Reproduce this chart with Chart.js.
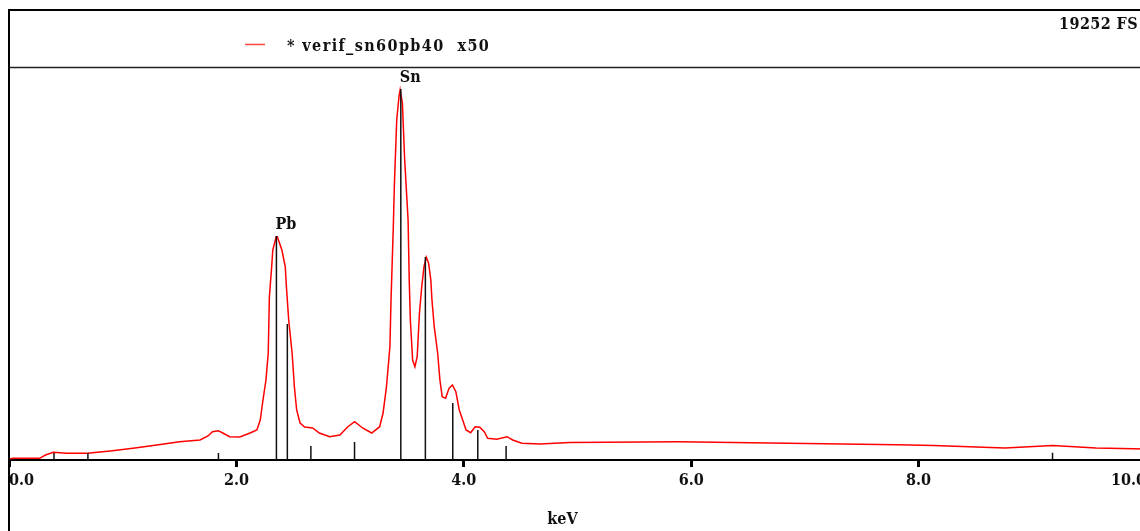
<!DOCTYPE html>
<html lang="en">
<head>
  <meta charset="UTF-8">
  <title>verif_sn60pb40</title>
  <style>
    html, body { margin: 0; padding: 0; background: #fff; }
    body { width: 1140px; height: 531px; overflow: hidden; position: relative; }
    #spectrum { position: absolute; left: 0; top: 0; }
  </style>
</head>
<body>
  <canvas id="spectrum" width="1150" height="531"></canvas>
  <script src="https://cdn.jsdelivr.net/npm/chart.js"></script>
  <script>
    // spectrum (keV / counts)
    const sampleName = '* verif_sn60pb40  x50';
    const fullScale = 19252;
    const specKeV = [0.00, 0.035, 0.27, 0.32, 0.39, 0.51, 0.69, 0.89, 1.09, 1.30, 1.50, 1.68, 1.75, 1.79, 1.84, 1.88, 1.94, 2.03, 2.12, 2.18,
      2.21, 2.23, 2.26, 2.28, 2.29, 2.31, 2.32, 2.35, 2.36, 2.40, 2.43, 2.44, 2.46, 2.49, 2.51, 2.53, 2.56, 2.60, 2.67, 2.73,
      2.82, 2.91, 2.98, 3.04, 3.11, 3.19, 3.26, 3.29, 3.32, 3.35, 3.36, 3.38, 3.39, 3.41, 3.43, 3.44, 3.46, 3.48, 3.51, 3.52,
      3.53, 3.55, 3.57, 3.59, 3.61, 3.63, 3.65, 3.67, 3.69, 3.71, 3.72, 3.74, 3.77, 3.79, 3.81, 3.84, 3.87, 3.90, 3.93, 3.96,
      3.99, 4.02, 4.06, 4.10, 4.14, 4.18, 4.21, 4.29, 4.38, 4.43, 4.51, 4.67, 4.93, 5.89, 6.85, 7.81, 8.13, 8.76, 9.18, 9.56, 10.0];
    const specCounts = [49, 84, 84, 246, 378, 329, 329, 442, 575, 737, 899, 982, 1179, 1390, 1439, 1326, 1144, 1130, 1326, 1473,
      1964, 2799, 3929, 5255, 8005, 9478, 10313, 10966, 10966, 10313, 9478, 8496, 6875, 5255, 3600, 2456, 1817, 1621, 1572, 1326,
      1144, 1228, 1635, 1881, 1572, 1326, 1635, 2308, 3600, 5564, 7858, 11457, 13603, 16697, 17842, 18171, 17532, 14733, 11786, 8840,
      6875, 4911, 4582, 5073, 7219, 8511, 9493, 9955, 9675, 8840, 7858, 6546, 5255, 3929, 3109, 3030, 3521, 3683, 3354, 2456,
      1964, 1473, 1341, 1635, 1606, 1390, 1066, 1017, 1144, 982, 820, 786, 859, 894, 820, 751, 712, 589, 712, 589, 540];

    // element line markers (KLM)
    const lineKeV = [0.396, 0.694, 1.842, 2.352, 2.448, 2.655, 3.039, 3.446, 3.662, 3.903, 4.123, 4.372, 9.178];
    const lineCounts = [344, 344, 344, 11000, 6679, 688, 884, 18220, 9969, 2799, 1473, 688, 358];

    const peakNames = ['Pb', 'Sn'];
    const peakKeV = [2.352, 3.446];
    const peakCounts = [11000, 18220];

    const textFont = '"DejaVu Serif Condensed", "DejaVu Serif", serif';

    const spectrumPoints = specKeV.map((e, i) => ({ x: e, y: specCounts[i] }));
    const markerPoints = [];
    lineKeV.forEach((e, i) => {
      markerPoints.push({ x: e, y: 0 }, { x: e, y: lineCounts[i] }, { x: e, y: null });
    });

    // frame, legend, full scale and peak names
    const framePlugin = {
      id: 'frame',
      afterDraw(chart) {
        const ctx = chart.ctx;
        const xs = chart.scales.x;
        const ys = chart.scales.y;
        ctx.save();
        ctx.strokeStyle = '#000';
        ctx.lineWidth = 2;
        ctx.beginPath();
        ctx.moveTo(8, 10); ctx.lineTo(chart.width, 10);
        ctx.moveTo(9, 9); ctx.lineTo(9, chart.height);
        ctx.stroke();
        ctx.strokeStyle = '#222';
        ctx.lineWidth = 1.5;
        ctx.beginPath();
        ctx.moveTo(9, 67.5); ctx.lineTo(chart.width, 67.5);
        ctx.stroke();

        ctx.strokeStyle = '#f44';
        ctx.lineWidth = 1.5;
        ctx.beginPath();
        ctx.moveTo(245, 44.5); ctx.lineTo(265, 44.5);
        ctx.stroke();

        ctx.font = 'bold 16px ' + textFont;
        ctx.fillStyle = '#111';
        ctx.textBaseline = 'alphabetic';
        ctx.textAlign = 'left';
        // the original is a monospace face, so spread the letters a little
        ctx.letterSpacing = '1.4px';
        ctx.fillText(sampleName, 287, 51);
        ctx.letterSpacing = '0.4px';
        ctx.textAlign = 'right';
        ctx.fillText(fullScale + ' FS', 1138, 29);

        ctx.letterSpacing = '0px';
        ctx.textAlign = 'left';
        peakNames.forEach((name, i) => {
          const px = xs.getPixelForValue(peakKeV[i]) - 1;
          const py = ys.getPixelForValue(peakCounts[i]) - 7;
          ctx.fillText(name, px, py);
        });
        ctx.restore();
      }
    };

    new Chart(document.getElementById('spectrum'), {
      type: 'line',
      data: {
        datasets: [
          {
            label: 'lines',
            data: markerPoints,
            borderColor: '#111',
            borderWidth: 1.5,
            pointRadius: 0,
            spanGaps: false,
          },
          {
            label: sampleName,
            data: spectrumPoints,
            borderColor: '#ff0000',
            borderWidth: 1.5,
            pointRadius: 0,
            tension: 0,
          },
        ],
      },
      options: {
        responsive: false,
        animation: false,
        events: [],
        layout: { padding: { left: 9, right: 4, top: 68, bottom: 0 } },
        plugins: { legend: { display: false }, tooltip: { enabled: false } },
        scales: {
          x: {
            type: 'linear',
            min: 0,
            max: 10,
            afterFit: scale => { scale.height = 71; },
            border: { display: true, color: '#000', width: 2 },
            grid: { drawOnChartArea: false, drawTicks: true, tickLength: 7, tickWidth: 3, tickColor: '#000' },
            ticks: {
              stepSize: 2,
              align: 'inner',
              padding: 4,
              color: '#111',
              font: { family: textFont, size: 16, weight: 'bold' },
              callback: v => v.toFixed(1),
            },
            title: {
              display: true,
              // trailing spaces nudge the centred title left like the original
              text: 'keV      ',
              color: '#111',
              font: { family: textFont, size: 16, weight: 'bold' },
              padding: { top: 0, bottom: 2 },
            },
          },
          y: { display: false, min: 0, max: fullScale },
        },
      },
      plugins: [framePlugin],
    });
  </script>
</body>
</html>
